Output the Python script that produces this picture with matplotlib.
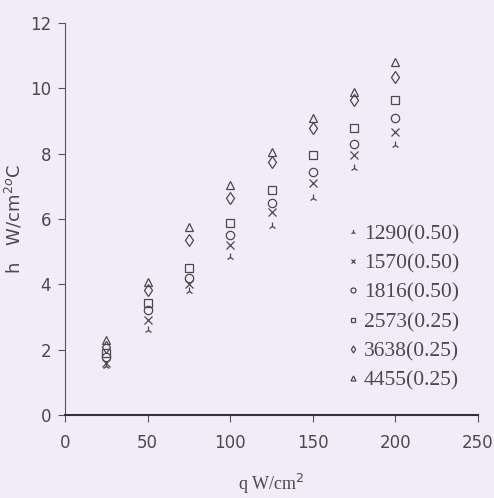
import matplotlib.pyplot as plt

q = [25, 50, 75, 100, 125, 150, 175, 200]

h_1290 = [1.5, 2.6, 3.8, 4.83, 5.8, 6.64, 7.55, 8.26]
h_1570 = [1.6, 2.9, 4.0, 5.2, 6.2, 7.1, 7.95, 8.65]
h_1816 = [1.78, 3.2, 4.2, 5.5, 6.5, 7.43, 8.3, 9.08]
h_2573 = [1.9, 3.42, 4.5, 5.87, 6.88, 7.95, 8.78, 9.63]
h_3638 = [2.08, 3.82, 5.35, 6.64, 7.74, 8.8, 9.63, 10.35]
h_4455 = [2.3, 4.07, 5.75, 7.03, 8.04, 9.08, 9.88, 10.8]

labels = ["1290(0.50)", "1570(0.50)", "1816(0.50)",
          "2573(0.25)", "3638(0.25)", "4455(0.25)"]
series = [h_1290, h_1570, h_1816, h_2573, h_3638, h_4455]
markers = ['2', 'x', 'o', 's', 'd', '^']

bg = '#f2ecf8'
ink = '#4a4a4a'

fig = plt.figure(figsize=(4.94, 4.98), dpi=100, facecolor=bg)
ax = fig.add_axes([0.1316, 0.1667, 0.836, 0.787], facecolor=bg)

for ys, m, lab in zip(series, markers, labels):
    ax.plot(q, ys, linestyle='none', marker=m, markersize=6,
            markerfacecolor='none', markeredgecolor=ink,
            markeredgewidth=0.9, label=lab)

ax.set_xlim(0, 250)
ax.set_ylim(0, 12)
ax.set_xticks([0, 50, 100, 150, 200, 250])
ax.set_yticks([0, 2, 4, 6, 8, 10, 12])
ax.spines['top'].set_visible(False)
ax.spines['right'].set_visible(False)
ax.spines['left'].set_color('#555555')
ax.spines['bottom'].set_color('#333333')
ax.spines['bottom'].set_linewidth(1.5)
ax.tick_params(direction='out', length=5, colors='#555555', labelcolor=ink,
               labelsize=12)
ax.tick_params(axis='y', pad=5)
ax.tick_params(axis='x', pad=9)

ax.set_xlabel("q W/cm$^2$", family='Liberation Serif', fontsize=13,
              color=ink, labelpad=14)
ax.set_ylabel("h   W/cm$^2$$^o$C", family='DejaVu Sans', fontsize=13,
              color=ink, labelpad=4)

leg = ax.legend(loc='upper left', bbox_to_anchor=(0.64, 0.535), frameon=False,
                prop={'family': 'Liberation Serif', 'size': 15.5},
                markerscale=0.6, handlelength=0.4, handletextpad=0.3,
                labelspacing=0.42)
for t in leg.get_texts():
    t.set_color(ink)

fig.savefig('out.png', dpi=100, facecolor=bg)
